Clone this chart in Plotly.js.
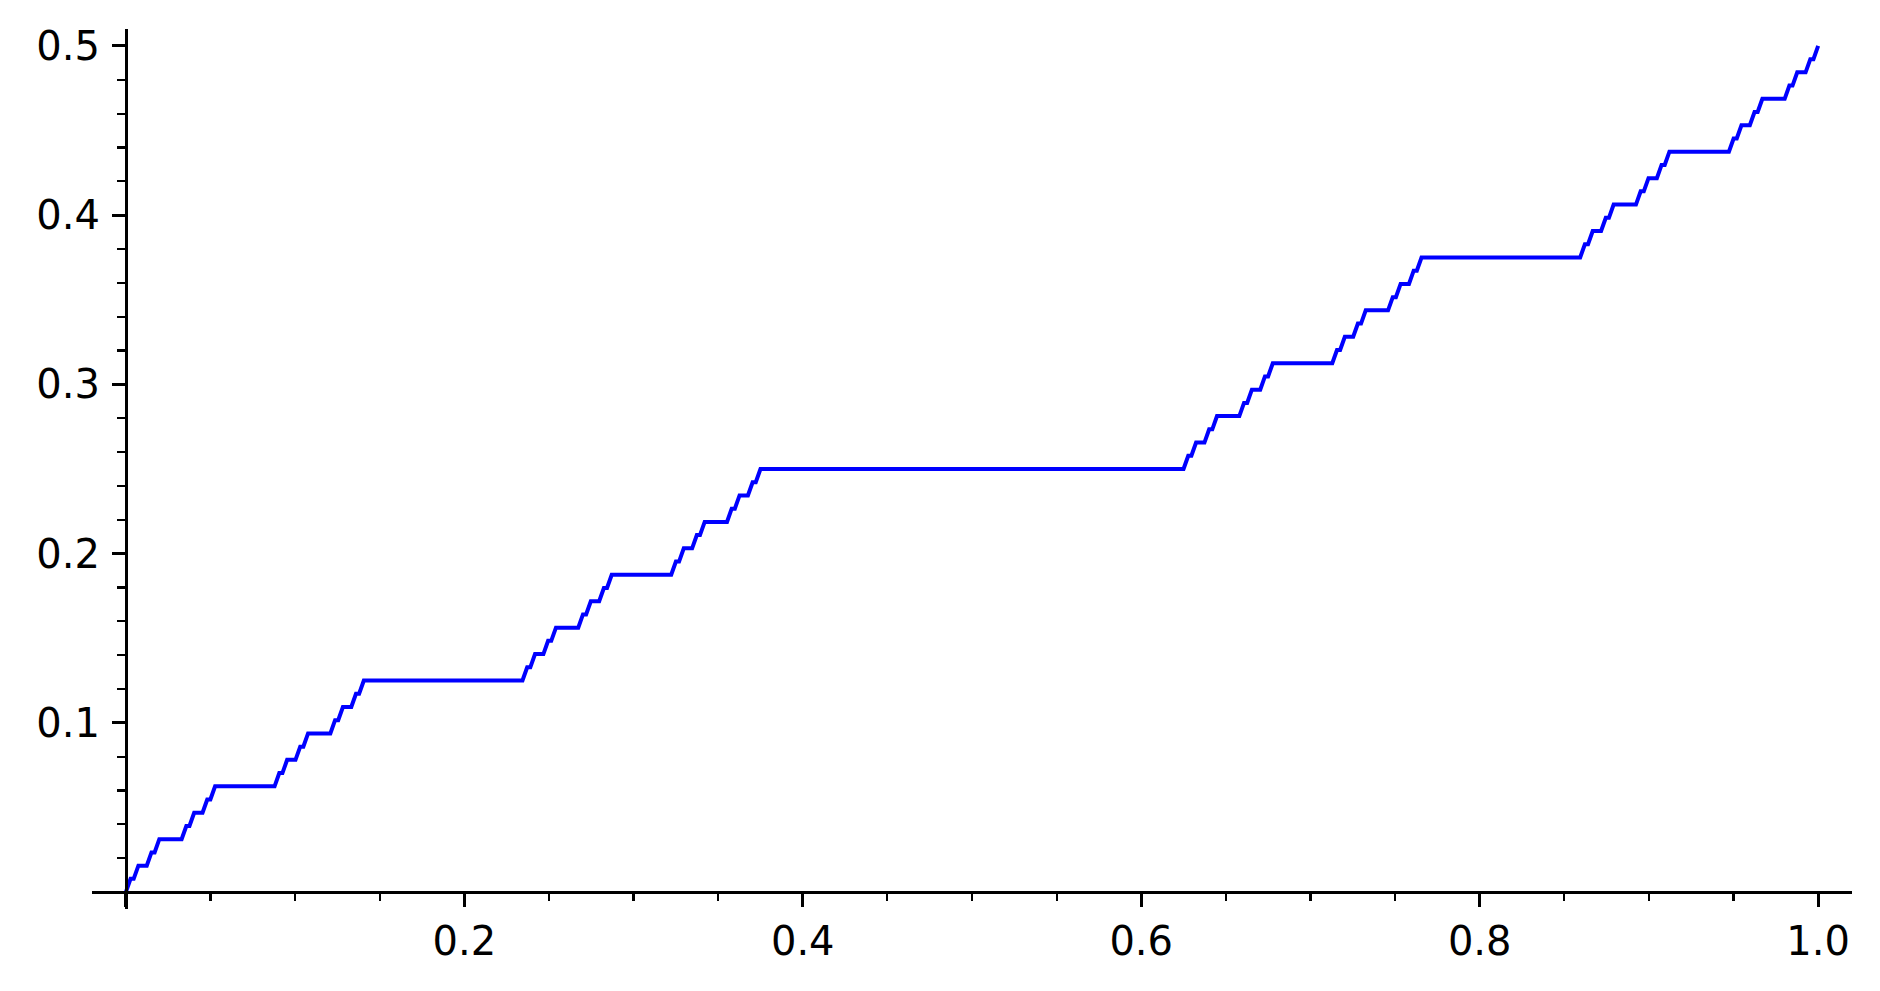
<!DOCTYPE html>
<html>
<head>
<meta charset="utf-8">
<script src="https://cdn.plot.ly/plotly-3.0.1.min.js"></script>
<style>
  html, body { margin: 0; padding: 0; background: #ffffff; }
  #chart { width: 1880px; height: 991px; }
</style>
</head>
<body>
<div id="chart"></div>
<script>
// Staircase: each flat step (level y, start x, end x)
const startPoint = [0, 0];
const endPoint = [1, 0.5];
const flatY = [
  0.0078125, 0.015625, 0.0234375, 0.03125, 0.0390625, 0.046875, 0.0546875, 0.0625,
  0.0703125, 0.078125, 0.0859375, 0.09375, 0.1015625, 0.109375, 0.1171875, 0.125,
  0.1328125, 0.140625, 0.1484375, 0.15625, 0.1640625, 0.171875, 0.1796875, 0.1875,
  0.1953125, 0.203125, 0.2109375, 0.21875, 0.2265625, 0.234375, 0.2421875, 0.25,
  0.2578125, 0.265625, 0.2734375, 0.28125, 0.2890625, 0.296875, 0.3046875, 0.3125,
  0.3203125, 0.328125, 0.3359375, 0.34375, 0.3515625, 0.359375, 0.3671875, 0.375,
  0.3828125, 0.390625, 0.3984375, 0.40625, 0.4140625, 0.421875, 0.4296875, 0.4375,
  0.4453125, 0.453125, 0.4609375, 0.46875, 0.4765625, 0.484375, 0.4921875
];
const flatStartX = [
  0.0027809, 0.0074158, 0.0151405, 0.0197754, 0.0357399, 0.0403748, 0.0480995, 0.0527344,
  0.0906715, 0.0953064, 0.1030311, 0.1076660, 0.1236305, 0.1282654, 0.1359901, 0.1406250,
  0.2371559, 0.2417908, 0.2495155, 0.2541504, 0.2701149, 0.2747498, 0.2824745, 0.2871094,
  0.3250465, 0.3296814, 0.3374061, 0.3420410, 0.3580055, 0.3626404, 0.3703651, 0.3750000,
  0.6277809, 0.6324158, 0.6401405, 0.6447754, 0.6607399, 0.6653748, 0.6730995, 0.6777344,
  0.7156715, 0.7203064, 0.7280311, 0.7326660, 0.7486305, 0.7532654, 0.7609901, 0.7656250,
  0.8621559, 0.8667908, 0.8745155, 0.8791504, 0.8951149, 0.8997498, 0.9074745, 0.9121094,
  0.9500465, 0.9546814, 0.9624061, 0.9670410, 0.9830055, 0.9876404, 0.9953651
];
const flatEndX = [
  0.0046349, 0.0123596, 0.0169945, 0.0329590, 0.0375939, 0.0453186, 0.0499535, 0.0878906,
  0.0925255, 0.1002502, 0.1048851, 0.1208496, 0.1254845, 0.1332092, 0.1378441, 0.2343750,
  0.2390099, 0.2467346, 0.2513695, 0.2673340, 0.2719689, 0.2796936, 0.2843285, 0.3222656,
  0.3269005, 0.3346252, 0.3392601, 0.3552246, 0.3598595, 0.3675842, 0.3722191, 0.6250000,
  0.6296349, 0.6373596, 0.6419945, 0.6579590, 0.6625939, 0.6703186, 0.6749535, 0.7128906,
  0.7175255, 0.7252502, 0.7298851, 0.7458496, 0.7504845, 0.7582092, 0.7628441, 0.8593750,
  0.8640099, 0.8717346, 0.8763695, 0.8923340, 0.8969689, 0.9046936, 0.9093285, 0.9472656,
  0.9519005, 0.9596252, 0.9642601, 0.9802246, 0.9848595, 0.9925842, 0.9972191
];
const xTickVals = [0, 0.2, 0.4, 0.6, 0.8, 1.0];
const xTickText = ['', '0.2', '0.4', '0.6', '0.8', '1.0'];
const yTickVals = [0, 0.1, 0.2, 0.3, 0.4, 0.5];
const yTickText = ['', '0.1', '0.2', '0.3', '0.4', '0.5'];

// build polyline
const xs = [startPoint[0]];
const ys = [startPoint[1]];
for (let i = 0; i < flatY.length; i++) {
  xs.push(flatStartX[i], flatEndX[i]);
  ys.push(flatY[i], flatY[i]);
}
xs.push(endPoint[0]);
ys.push(endPoint[1]);

const xr = [-0.02, 1.02];
const yr = [-0.01, 0.51];

const trace = {
  x: xs, y: ys, type: 'scatter', mode: 'lines',
  line: { color: '#0000ff', width: 4, shape: 'linear' },
  hoverinfo: 'skip'
};

const font = { family: 'DejaVu Sans', size: 40, color: '#000000' };

const layout = {
  width: 1880, height: 991,
  margin: { l: 92, r: 28, t: 29, b: 82, pad: 0 },
  paper_bgcolor: '#ffffff', plot_bgcolor: '#ffffff',
  showlegend: false,
  font: font,
  xaxis: {
    range: xr, showgrid: false, zeroline: false,
    showline: true, linecolor: '#000000', linewidth: 3,
    anchor: 'free', position: (0 - yr[0]) / (yr[1] - yr[0]),
    tickmode: 'array', tickvals: xTickVals, ticktext: xTickText,
    ticks: 'outside', ticklen: 13, tickwidth: 3, tickcolor: '#000000',
    tickfont: font,
    minor: { dtick: 0.05, tick0: 0, ticks: 'outside', ticklen: 7.4, tickwidth: 2.2, tickcolor: '#000000', showgrid: false }
  },
  yaxis: {
    range: yr, showgrid: false, zeroline: false,
    showline: true, linecolor: '#000000', linewidth: 3,
    anchor: 'free', position: (0 - xr[0]) / (xr[1] - xr[0]),
    tickmode: 'array', tickvals: yTickVals, ticktext: yTickText,
    ticks: 'outside', ticklen: 13, tickwidth: 3, tickcolor: '#000000',
    ticklabelstandoff: 4,
    tickfont: font,
    minor: { dtick: 0.02, tick0: 0, ticks: 'outside', ticklen: 7.4, tickwidth: 2.2, tickcolor: '#000000', showgrid: false }
  }
};

Plotly.newPlot('chart', [trace], layout, { displayModeBar: false, staticPlot: true });
</script>
</body>
</html>
